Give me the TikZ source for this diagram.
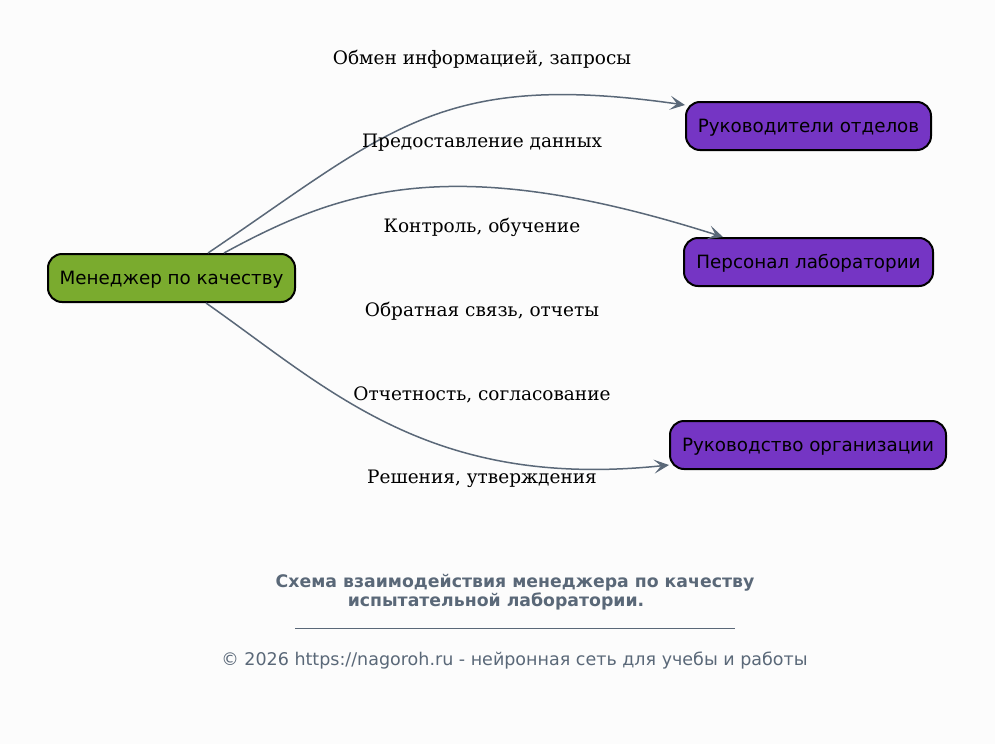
\documentclass[tikz,border=0pt]{standalone}
\usepackage{fontspec}
\setmainfont{DejaVu Sans}
\newfontfamily\lblfont{DejaVu Serif}
\usetikzlibrary{arrows.meta,calc}
\definecolor{bgc}{HTML}{FCFCFC}
\definecolor{edgec}{HTML}{5A6878}
\definecolor{greenc}{HTML}{7AAB2E}
\definecolor{purplec}{HTML}{7535C4}
\definecolor{titlec}{HTML}{5A6878}
\tikzset{
  box/.style={draw=black, line width=2pt, rounded corners=14pt, minimum height=48pt,
    inner sep=0pt, text height=13pt, text depth=0.4pt, font=\fontsize{18.3}{21}\selectfont, text=black},
  gbox/.style={box, fill=greenc},
  pbox/.style={box, fill=purplec},
  conn/.style={draw=edgec, line width=1.5pt, -{Stealth[length=15pt,width=14pt,inset=7pt]}},
  lbl/.style={font=\lblfont\fontsize{18.5}{21}\selectfont, text=black, inner sep=0pt},
}
\begin{document}
\begin{tikzpicture}[x=1pt,y=-1pt]
\fill[bgc] (0,0) rectangle (995,744);
\useasboundingbox (0,0) rectangle (995,744);
\node[gbox, minimum width=247pt] (m) at (171.5,278) {Менеджер по качеству};
\node[pbox, minimum width=245pt] (r1) at (808.5,126) {Руководители отделов};
\node[pbox, minimum width=249pt] (p) at (808.5,262) {Персонал лаборатории};
\node[pbox, minimum width=276pt] (o) at (808,445) {Руководство организации};

\draw[conn] ($(m.north)+(36.5,0)$) .. controls (390,130) and (440,70) .. ($(r1.north west)+(0,4)$);
\draw[conn] ($(m.north)+(52.5,0)$) .. controls (340,190) and (450,150) .. ($(p.north west)+(40,0)$);
\draw[conn] ($(m.south)+(34.5,0)$) .. controls (330,390) and (430,490) .. ($(o.south west)+(0,-5)$);

\node[lbl] (l1) at (482,59) {Обмен информацией, запросы};
\node[lbl] (l2) at (482,143) {Предоставление данных};
\node[lbl] (l3) at (482,227) {Контроль, обучение};
\node[lbl] (l4) at (482,311) {Обратная связь, отчеты};
\node[lbl] (l5) at (482,395) {Отчетность, согласование};
\node[lbl] (l6) at (482,479) {Решения, утверждения};

\node[font=\bfseries\fontsize{17.3}{20}\selectfont, text=titlec, inner sep=0pt] (t1) at (515,583) {Схема взаимодействия менеджера по качеству};
\node[font=\bfseries\fontsize{17.3}{20}\selectfont, text=titlec, inner sep=0pt] (t2) at (496,601) {испытательной лаборатории.};
\coordinate (s1) at (295,628);
\coordinate (s2) at (735,628);
\draw[titlec, line width=1pt] (s1) -- (s2);
\node[font=\fontsize{17.5}{20}\selectfont, text=titlec, inner sep=0pt] (f) at (514.5,661) {© 2026 https://nagoroh.ru - нейронная сеть для учебы и работы};
\end{tikzpicture}
\end{document}
